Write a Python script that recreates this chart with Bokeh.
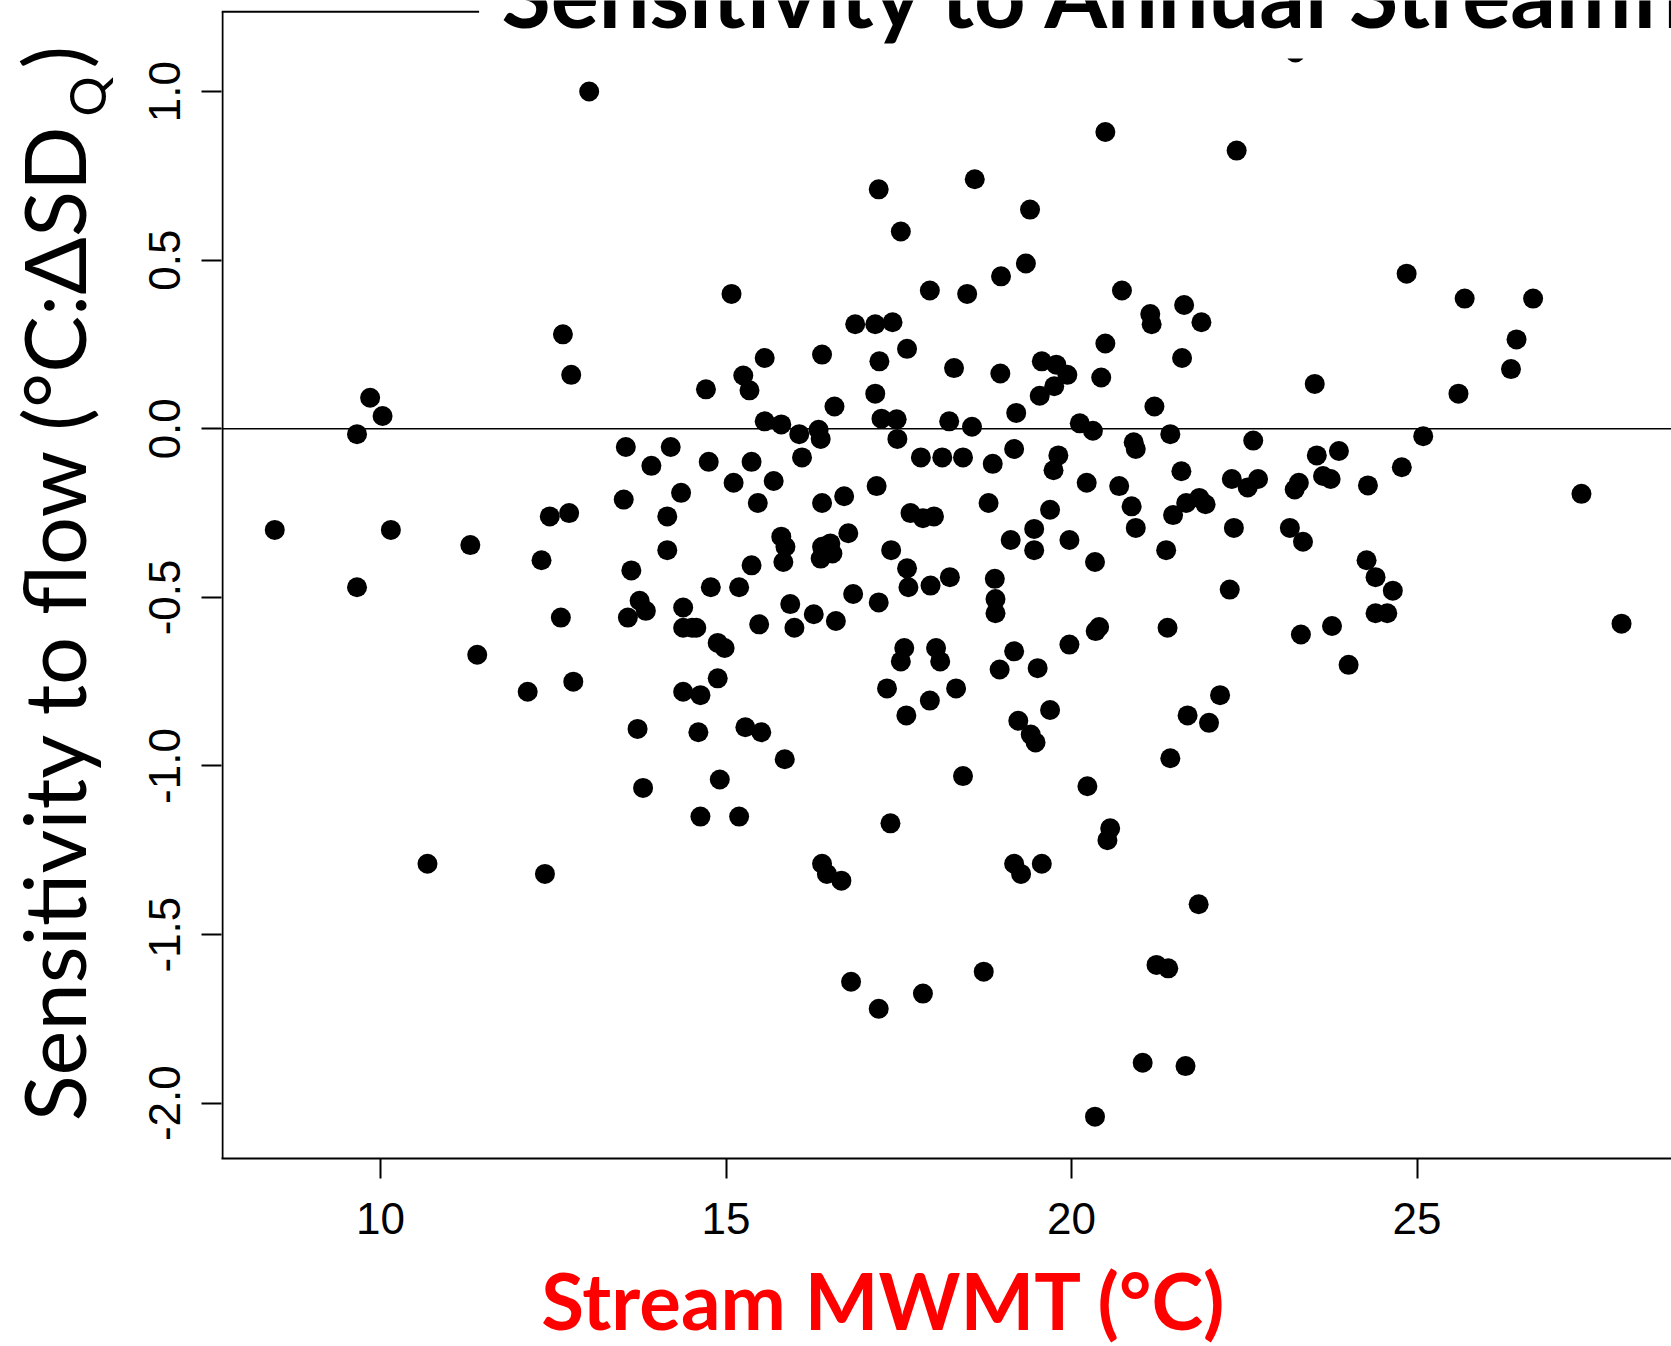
import math
from bokeh.plotting import figure
from bokeh.layouts import row, column
from bokeh.models import (FixedTicker, PrintfTickFormatter, Span, Label,
                          BoxAnnotation, ColumnDataSource, Range1d)
from bokeh.embed import file_html
from bokeh.resources import INLINE

# ---- data ----
mwmt = [8.47, 9.66, 9.85, 10.03, 9.66, 10.15, 10.68, 11.30, 11.40, 12.13,
        12.33, 12.38, 12.45, 12.64, 12.61, 12.73, 12.76, 12.79, 13.02, 13.52,
        13.55, 13.58, 13.63, 13.72, 13.75, 13.80, 13.84, 13.92, 14.15, 14.15,
        14.20, 14.35, 14.38, 14.38, 14.38, 14.51, 14.57, 14.60, 14.63, 14.63,
        14.71, 14.75, 14.78, 14.88, 14.88, 14.91, 14.98, 15.08, 15.11, 15.19,
        15.19, 15.25, 15.28, 15.34, 15.37, 15.37, 15.46, 15.48, 15.51, 15.56,
        15.56, 15.69, 15.80, 15.80, 15.83, 15.86, 15.85, 15.93, 15.99, 16.06,
        16.10, 16.27, 16.34, 16.37, 16.39, 16.39, 16.37, 16.39, 16.39, 16.46,
        16.51, 16.54, 16.57, 16.59, 16.67, 16.71, 16.77, 16.81, 16.84, 16.87,
        17.16, 17.16, 17.18, 17.21, 17.21, 17.21, 17.22, 17.25, 17.33, 17.38,
        17.39, 17.41, 17.47, 17.48, 17.53, 17.53, 17.58, 17.61, 17.62, 17.62,
        17.64, 17.67, 17.82, 17.85, 17.85, 17.95, 17.95, 17.96, 18.01, 18.04,
        18.10, 18.13, 18.23, 18.24, 18.30, 18.33, 18.43, 18.43, 18.49, 18.56,
        18.60, 18.73, 18.80, 18.86, 18.89, 18.90, 18.90, 18.96, 18.98, 18.97,
        19.12, 19.17, 19.17, 19.17, 19.20, 19.23, 19.27, 19.34, 19.40, 19.41,
        19.46, 19.46, 19.48, 19.51, 19.54, 19.57, 19.57, 19.69, 19.69, 19.74,
        19.75, 19.78, 19.81, 19.94, 19.97, 19.97, 20.12, 20.22, 20.23, 20.31,
        20.34, 20.34, 20.35, 20.40, 20.43, 20.49, 20.49, 20.52, 20.56, 20.69,
        20.73, 20.87, 20.90, 20.93, 20.93, 21.03, 21.14, 21.16, 21.20, 21.23,
        21.37, 21.39, 21.40, 21.43, 21.43, 21.47, 21.59, 21.60, 21.63, 21.65,
        21.66, 21.68, 21.84, 21.88, 21.85, 21.94, 21.99, 22.15, 22.29, 22.32,
        22.35, 22.39, 22.55, 22.63, 22.70, 23.16, 23.23, 23.29, 23.32, 23.35,
        23.52, 23.55, 23.64, 23.75, 23.77, 23.87, 24.01, 24.27, 24.29, 24.40,
        24.40, 24.57, 24.65, 24.78, 24.85, 25.09, 25.60, 25.69, 26.36, 26.44,
        26.68, 27.38, 27.96, 23.24]
sens = [-0.30, -0.016, 0.092, 0.038, -0.47, -0.30, -1.29, -0.345, -0.67, -0.78,
        -0.39, -1.32, -0.26, 0.28, -0.56, -0.25, 0.16, -0.75, 1.00, -0.21,
        -0.054, -0.56, -0.42, -0.89, -0.51, -1.065, -0.54, -0.11, -0.26, -0.36,
        -0.054, -0.19, -0.53, -0.59, -0.78, -0.59, -0.59, -0.90, -0.79, -1.15,
        0.117, -0.098, -0.47, -0.635, -0.74, -1.04, -0.65, 0.40, -0.16, -0.47,
        -1.15, 0.158, -0.885, 0.114, -0.098, -0.405, -0.22, -0.58, -0.90, 0.21,
        0.022, -0.155, 0.013, -0.32, -0.395, -0.35, -0.98, -0.52, -0.59, -0.016,
        -0.085, -0.55, -0.003, -0.03, 0.22, -0.22, -0.385, -0.35, -1.29, -1.32,
        -0.34, -0.37, 0.066, -0.57, -1.34, -0.20, -0.31, -1.64, -0.49, 0.31,
        0.31, 0.104, -0.17, -0.515, -1.72, 0.71, 0.20, 0.03, -0.77, -1.17,
        -0.36, 0.316, 0.028, -0.03, 0.585, -0.69, -0.65, -0.85, 0.237, -0.414,
        -0.47, -0.25, -0.085, -0.265, -1.675, 0.41, -0.806, -0.465, -0.26, -0.65,
        -0.69, -0.085, 0.022, -0.44, 0.18, -0.77, -0.085, -1.03, 0.40, 0.006,
        0.74, -1.61, -0.22, -0.104, -0.445, -0.505, -0.547, -0.714, 0.452, 0.164,
        -0.33, -0.06, -0.66, -1.29, 0.047, -0.866, -1.32, 0.49, 0.65, -0.907,
        -0.297, -0.36, -0.93, -0.71, 0.098, 0.20, -1.29, -0.24, -0.834, -0.123,
        0.126, 0.19, -0.079, 0.16, -0.33, -0.64, 0.016, -0.16, -1.06, -0.006,
        -0.395, -2.04, -0.60, -0.588, 0.152, 0.253, 0.88, -1.22, -1.185, -0.17,
        0.41, -0.23, -0.04, -0.06, -0.294, -1.88, 0.34, 0.31, 0.066, -1.59,
        -0.36, -0.59, -1.60, -0.016, -0.977, -0.256, -0.126, 0.21, 0.367, -1.89,
        -0.22, -0.85, -1.41, 0.316, -0.205, -0.224, -0.872, -0.79, -0.477, -0.149,
        -0.294, 0.825, -0.174, -0.035, -0.149, -0.294, -0.18, -0.16, -0.61, -0.335,
        0.133, -0.079, -0.14, -0.149, -0.585, -0.066, -0.70, -0.39, -0.168, -0.44,
        -0.547, -0.547, -0.48, -0.114, 0.46, -0.022, 0.104, 0.386, 0.177, 0.265,
        0.386, -0.193, -0.578, 1.116]

x_ticks = [10, 15, 20, 25, 30]
y_ticks = [-2.0, -1.5, -1.0, -0.5, 0.0, 0.5, 1.0]

title_text = "Sensitivity to Annual Streamflow"
ylab_main = "Sensitivity to flow (\u00b0C:\u0394SD"
ylab_sub = "Q"
ylab_end = ")"
xlab_text = "Stream MWMT (\u00b0C)"

# ---- layout geometry (pixels) ----
W, H = 1671, 1346
LW = 115                  # left strip holding the y-axis title
MW = W - LW               # main figure width
MH = 1252                 # main figure height
BH = H - MH               # bottom strip holding the x-axis title
FRAME_LEFT = 221
FRAME_BOTTOM = 1158.4
MID = 0.36                # baseline offset of "middle" anchored text (em)

x0, x1 = 7.699, 28.683
y0, y1 = -2.164, 1.270
y_border = 1.237          # where the plot box's top edge is drawn


def blank(width, height):
    f = figure(width=width, height=height, output_backend="svg",
               toolbar_location=None, x_axis_location=None,
               y_axis_location=None, min_border=0, title=None,
               x_range=Range1d(0, 1), y_range=Range1d(0, 1))
    f.outline_line_color = None
    f.grid.visible = False
    f.background_fill_color = "white"
    f.border_fill_color = "white"
    return f


# ---- main plot ----
p = figure(width=MW, height=MH, output_backend="svg", toolbar_location=None,
           x_range=Range1d(x0, x1), y_range=Range1d(y0, y1),
           min_border_left=FRAME_LEFT - LW, min_border_right=0,
           min_border_top=0, min_border_bottom=round(MH - FRAME_BOTTOM),
           title=None)
p.outline_line_color = None
p.grid.visible = False
p.background_fill_color = "white"
p.border_fill_color = "white"

src = ColumnDataSource(dict(x=mwmt, y=sens))

p.add_layout(Span(location=0, dimension="width", line_color="black",
                  line_width=1.5, level="underlay"))

p.scatter("x", "y", source=src, size=20, marker="circle",
          fill_color="black", line_color="black", line_width=0)

# plot box: left edge and the short visible part of the top edge
px = 1.0 / 69.1
p.segment(x0=[x0 + px], y0=[y0], x1=[x0 + px], y1=[y_border],
          line_color="black", line_width=2)
p.segment(x0=[x0], y0=[y_border], x1=[11.43], y1=[y_border],
          line_color="black", line_width=2)

for ax in (p.xaxis[0], p.yaxis[0]):
    ax.axis_line_width = 2
    ax.axis_line_color = "black"
    ax.major_tick_line_width = 2
    ax.major_tick_line_color = "black"
    ax.major_tick_out = 20
    ax.major_tick_in = 0
    ax.minor_tick_line_color = None
    ax.major_label_text_font = "Liberation Sans"
    ax.major_label_text_font_size = "44px"
    ax.major_label_text_color = "black"

p.yaxis.axis_line_color = None
p.xaxis.major_label_standoff = 24
p.yaxis.major_label_standoff = 21
p.xaxis.ticker = FixedTicker(ticks=x_ticks)
p.yaxis.ticker = FixedTicker(ticks=y_ticks)
p.yaxis.formatter = PrintfTickFormatter(format="%.1f")
p.yaxis.major_label_orientation = "vertical"

# white box behind the title (hides a point near the top)
p.add_layout(BoxAnnotation(left=11.43, bottom=1.098, fill_color="white",
                           fill_alpha=1.0, line_alpha=0.0))

tsize = 90
p.add_layout(Label(x=501 - FRAME_LEFT, y=FRAME_BOTTOM - (25 - MID * tsize),
                   x_units="screen", y_units="screen", text=title_text,
                   text_font="Lato", text_font_style="bold",
                   text_font_size=f"{tsize}px", text_color="black",
                   text_align="left", text_baseline="middle"))

# ---- left strip: y-axis title with subscript ----
left = blank(LW, H)
ms, ss = 85, 50
left.add_layout(Label(x=83 - MID * ms, y=H - 122, x_units="screen",
                      y_units="screen", text=ylab_main, angle=math.pi / 2,
                      text_font="Lato", text_font_size=f"{ms}px",
                      text_color="black", text_align="right",
                      text_baseline="middle"))
left.add_layout(Label(x=104 - MID * ss, y=H - 116, x_units="screen",
                      y_units="screen", text=ylab_sub, angle=math.pi / 2,
                      text_font="Lato", text_font_size=f"{ss}px",
                      text_color="black", text_align="left",
                      text_baseline="middle"))
left.add_layout(Label(x=83 - MID * ms, y=H - 68, x_units="screen",
                      y_units="screen", text=ylab_end, angle=math.pi / 2,
                      text_font="Lato", text_font_size=f"{ms}px",
                      text_color="black", text_align="left",
                      text_baseline="middle"))

# ---- bottom strip: x-axis title (its frame is aligned with the main one) ----
bottom = blank(MW, BH)
xs = 78
xbase = 1328
bottom.add_layout(Label(x=883.5 - FRAME_LEFT, y=BH - ((xbase - MH) - MID * xs),
                        x_units="screen", y_units="screen", text=xlab_text,
                        text_font="Lato", text_font_style="bold",
                        text_font_size=f"{xs}px", text_color="#ff0000",
                        text_align="center", text_baseline="middle"))

layout = row(left, column(p, bottom))
open("out.html", "w").write(file_html(layout, INLINE))
